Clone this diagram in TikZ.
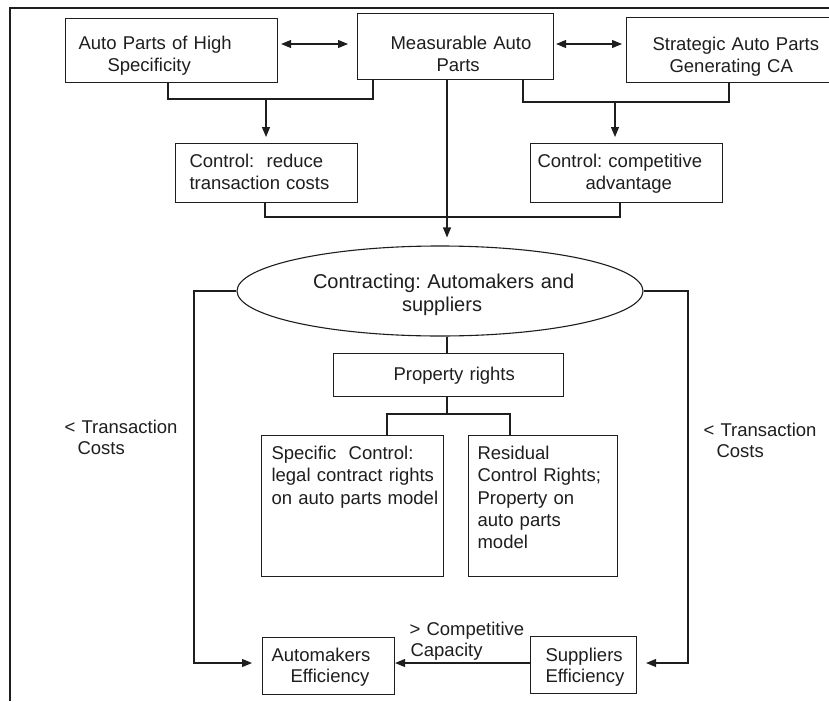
\documentclass[tikz,border=0pt]{standalone}
\usepackage{fontspec}
\setmainfont{Liberation Sans}
\usetikzlibrary{arrows.meta,shapes.geometric}
\definecolor{ink}{RGB}{30,30,30}
\frenchspacing
\begin{document}
\begin{tikzpicture}[x=1pt,y=-1pt,line width=1.1pt,color=ink,
  tb/.style={draw,rectangle,anchor=north west,inner sep=0pt,align=left,font=\fontsize{18.5}{22.3}\selectfont},
  lbl/.style={rectangle,anchor=north west,inner sep=0pt,align=left,font=\fontsize{18.5}{20.5}\selectfont},
  arr/.style={-{Triangle[length=10pt,width=8pt]}},
  darr/.style={{Triangle[length=10pt,width=8pt]}-{Triangle[length=10pt,width=8pt]}}]
\fill[white] (0,0) rectangle (829,701);
\clip (0,0) rectangle (829,701);
% frame
\coordinate (f0) at (10,701);
\coordinate (f1) at (10,8);
\coordinate (f2) at (829,8);
\draw[line width=1.3pt] (f0) -- (f1) -- (f2);
% top row
\node[tb,text width=212pt,text height=31pt,text depth=33pt] (A) at (65,18)
  {\hspace*{13pt}Auto Parts of High\\\hspace*{42pt}Specificity};
\node[tb,text width=196pt,text height=36pt,text depth=30pt] (M) at (357,13)
  {\hspace*{33pt}Measurable Auto\\\hspace*{79pt}Parts};
\node[tb,text width=209pt,text height=33pt,text depth=32pt] (S) at (626,17)
  {\hspace*{26pt}Strategic Auto Parts\\\hspace*{43pt}Generating CA};
% control boxes
\node[tb,text width=182pt,text height=24pt,text depth=35pt] (C1) at (175,143)
  {\hspace*{14pt}Control:\ \ reduce\\\hspace*{14pt}transaction costs};
\node[tb,text width=192pt,text height=24pt,text depth=35pt] (C2) at (530,143)
  {\hspace*{7pt}Control: competitive\\\hspace*{55pt}advantage};
% ellipse
\node[ellipse,draw,minimum width=406pt,minimum height=90pt,inner sep=0pt,
  text width=284pt,align=left,text height=14pt,text depth=20pt,
  font=\fontsize{20}{23}\selectfont] (E) at (440,291)
  {\hspace*{15pt}Contracting: Automakers and\\\hspace*{104pt}suppliers};
% property rights
\node[tb,text width=230pt,text height=27pt,text depth=16pt] (P) at (333,353)
  {\hspace*{60pt}Property rights};
\node[tb,text width=182pt,text height=24pt,text depth=117pt] (SC) at (261,435)
  {\hspace*{10pt}Specific\ \ Control:\\\hspace*{10pt}legal contract rights\\\hspace*{10pt}on auto parts model};
\node[tb,text width=149pt,text height=24pt,text depth=117pt] (RC) at (468,435)
  {\hspace*{9pt}Residual\\\hspace*{9pt}Control Rights;\\\hspace*{9pt}Property on\\\hspace*{9pt}auto parts\\\hspace*{9pt}model};
% efficiency boxes
\node[tb,text width=132pt,text height=24pt,text depth=33pt,font=\fontsize{18.5}{21}\selectfont] (AE) at (262,637)
  {\hspace*{9pt}Automakers\\\hspace*{28pt}Efficiency};
\node[tb,text width=106pt,text height=24.5pt,text depth=32.5pt,font=\fontsize{18.5}{21.5}\selectfont] (SE) at (530,636)
  {\hspace*{15pt}Suppliers\\\hspace*{15pt}Efficiency};
% labels
\node[lbl,text width=130pt,text height=13pt,text depth=30pt] (TL) at (64,420)
  {\textless{} Transaction\\\hspace*{13pt}Costs};
\node[lbl,text width=125pt,text height=13pt,text depth=30pt] (TR) at (703,423)
  {\textless{} Transaction\\\hspace*{13pt}Costs};
\node[lbl,text width=120pt,text height=13pt,text depth=30pt,font=\fontsize{18.5}{21}\selectfont] (CC) at (409,622)
  {\textgreater{} Competitive\\\hspace*{1pt}Capacity};
% double arrows
\coordinate (h1) at (0,44);
\draw[darr,shorten <=3pt,shorten >=9pt] (A.east |- h1) -- (M.west |- h1);
\draw[darr,shorten <=2pt,shorten >=4pt] (M.east |- h1) -- (S.west |- h1);
% left bracket
\coordinate (j1) at (168,99);
\coordinate (j2) at (373,99);
\coordinate (j3) at (266,99);
\draw (A.south -| j1) -- (j1) -- (j2) -- (M.south -| j2);
\draw[arr,shorten >=6pt] (j3) -- (C1.north -| j3);
% right bracket
\coordinate (k1) at (523,102);
\coordinate (k2) at (729,102);
\coordinate (k3) at (615,102);
\draw (M.south -| k1) -- (k1) -- (k2) -- (S.south -| k2);
\draw[arr,shorten >=6pt] (k3) -- (C2.north -| k3);
% bottom bracket
\coordinate (m1) at (265,217);
\coordinate (m2) at (620,217);
\draw (C1.south -| m1) -- (m1) -- (m2) -- (C2.south -| m2);
% central line
\coordinate (c0) at (447,0);
\draw[arr,shorten >=8pt] (M.south -| c0) -- (E.north -| c0);
% ellipse to property rights
\draw (E.south -| c0) -- (P.north -| c0);
\coordinate (p1) at (387,414);
\coordinate (p2) at (510,414);
\draw (P.south -| c0) -- (c0 |- p1);
\draw (SC.north -| p1) -- (p1) -- (p2) -- (RC.north -| p2);
% side loops
\coordinate (l1) at (194,291);
\coordinate (l2) at (194,663);
\draw[arr,shorten >=10pt] (E.west) -- (l1) -- (l2) -- (AE.west |- l2);
\coordinate (r1) at (688,291);
\coordinate (r2) at (688,663);
\draw[arr,shorten >=9pt] (E.east) -- (r1) -- (r2) -- (SE.east |- r2);
\draw[arr] (SE.west |- r2) -- (AE.east |- r2);
\end{tikzpicture}
\end{document}
